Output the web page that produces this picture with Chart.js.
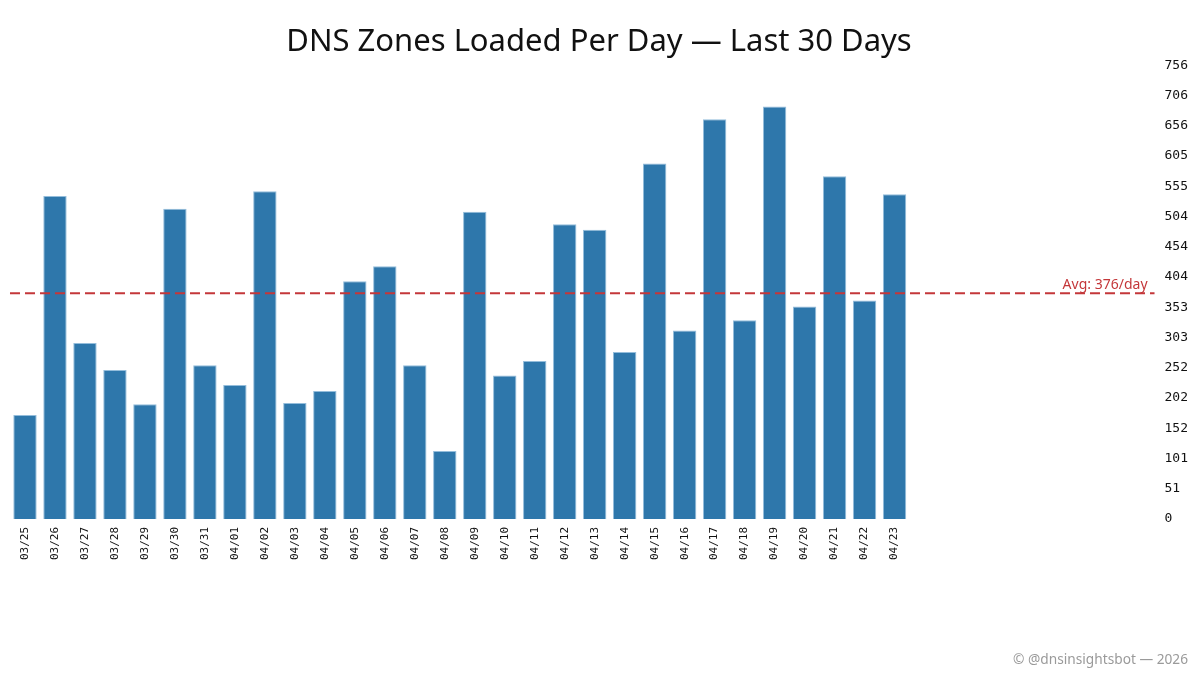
<!DOCTYPE html>
<html>
<head>
<meta charset="utf-8">
<title>DNS Zones Loaded Per Day</title>
<script src="https://cdn.jsdelivr.net/npm/chart.js@4.4.1/dist/chart.umd.min.js"></script>
<style>
    html, body { margin: 0; padding: 0; background: #fff; }
    #wrap { width: 1200px; height: 675px; }
</style>
</head>
<body>
<div id="wrap"><canvas id="zonesChart"></canvas></div>
<script>
// Data
var dayLabels = ['03/25', '03/26', '03/27', '03/28', '03/29', '03/30', '03/31',
    '04/01', '04/02', '04/03', '04/04', '04/05', '04/06', '04/07', '04/08', '04/09',
    '04/10', '04/11', '04/12', '04/13', '04/14', '04/15', '04/16', '04/17', '04/18',
    '04/19', '04/20', '04/21', '04/22', '04/23'];
var zonesLoaded = [173, 538, 293, 248, 191, 517, 256, 223, 546, 193,
    213, 396, 421, 256, 113, 512, 239, 263, 491, 482,
    278, 592, 314, 666, 331, 687, 354, 571, 364, 541];
var avgPerDay = 376;
var yTickLabels = ['0', '51', '101', '152', '202', '252', '303', '353', '404',
    '454', '504', '555', '605', '656', '706', '756'];
var yMax = 756;
var xMin = -0.8333;
var xMax = 37.67;   // axis runs past the last bar, out to the y labels

var barColor = '#2e77ab';
var avgColor = '#c4373a';
var footerText = '\u00a9 @dnsinsightsbot \u2014 2026';

// dashed average line + its label, and the footer credit
var avgLine = {
    id: 'avgLine',
    afterDatasetsDraw: function(chart) {
        var ctx = chart.ctx;
        var area = chart.chartArea;
        var y = chart.scales.y.getPixelForValue(avgPerDay);
        var x0 = chart.scales.x.getPixelForValue(-0.5);
        ctx.save();
        ctx.strokeStyle = avgColor;
        ctx.lineWidth = 2;
        ctx.setLineDash([10, 5]);
        ctx.beginPath();
        ctx.moveTo(x0, y);
        ctx.lineTo(area.right, y);
        ctx.stroke();
        ctx.setLineDash([]);
        ctx.fillStyle = avgColor;
        ctx.font = '14px "Noto Sans", sans-serif';
        ctx.textAlign = 'right';
        ctx.textBaseline = 'bottom';
        ctx.fillText('Avg: ' + avgPerDay + '/day', area.right - 7, y - 1);

        ctx.fillStyle = '#9a9a9a';
        ctx.font = '13.7px "Noto Sans", sans-serif';
        ctx.textBaseline = 'middle';
        ctx.fillText(footerText, chart.width - 12, chart.height - 15);
        ctx.restore();
    }
};

var zonesChart = new Chart(document.getElementById('zonesChart'), {
    type: 'bar',
    data: {
        datasets: [{
            label: 'Zones loaded',
            data: zonesLoaded.map(function(v, i) { return { x: i, y: v }; }),
            backgroundColor: barColor,
            borderColor: '#94bddb',
            borderWidth: 1,
            barPercentage: 0.78,
            categoryPercentage: 1.0
        }]
    },
    options: {
        responsive: true,
        maintainAspectRatio: false,
        animation: false,
        layout: {
            padding: { left: 0, right: 2, top: 0, bottom: 107 }
        },
        plugins: {
            legend: { display: false },
            tooltip: { enabled: false },
            title: {
                display: true,
                text: 'DNS Zones Loaded Per Day \u2014 Last 30 Days',
                color: '#111',
                font: { family: '"Noto Sans", sans-serif', size: 31, weight: 'normal' },
                padding: { top: 24, bottom: 4 }
            }
        },
        scales: {
            x: {
                type: 'linear',
                offset: false,
                min: xMin,
                max: xMax,
                grid: { display: false, drawTicks: false },
                border: { display: false },
                afterBuildTicks: function(scale) {
                    scale.ticks = dayLabels.map(function(_, i) { return { value: i }; });
                },
                ticks: {
                    autoSkip: false,
                    minRotation: 90,
                    maxRotation: 90,
                    padding: 8,
                    color: '#111',
                    font: { family: '"DejaVu Sans Mono", monospace', size: 11 },
                    callback: function(value) { return dayLabels[value]; }
                }
            },
            y: {
                position: 'right',
                min: 0,
                max: yMax,
                grid: { display: false, drawTicks: false },
                border: { display: false },
                afterBuildTicks: function(scale) {
                    scale.ticks = yTickLabels.map(function(_, i) {
                        return { value: i * yMax / (yTickLabels.length - 1) };
                    });
                },
                ticks: {
                    padding: 10,
                    color: '#111',
                    font: { family: '"DejaVu Sans Mono", monospace', size: 13 },
                    callback: function(value, index) { return yTickLabels[index]; }
                }
            }
        }
    },
    plugins: [avgLine]
});
</script>
</body>
</html>
